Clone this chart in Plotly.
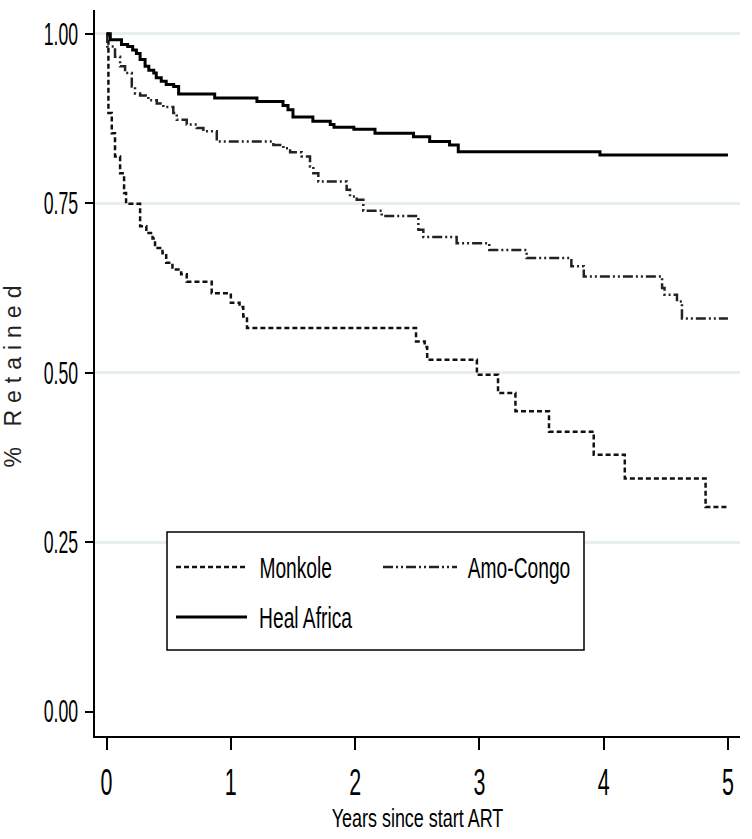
import plotly.graph_objects as go

# ---------------- data ----------------
series_names = ["Monkole", "Amo-Congo", "Heal Africa"]

monkole_t = [0, 0.015, 0.042, 0.068, 0.109, 0.141, 0.157, 0.27, 0.32, 0.37, 0.39, 0.45, 0.48,
             0.53, 0.60, 0.645, 0.846, 1.0, 1.07, 1.10, 1.13, 2.49, 2.56, 2.58, 2.98, 3.15,
             3.29, 3.56, 3.92, 4.17, 4.82, 5.0]
monkole_s = [1.0, 0.883, 0.853, 0.819, 0.794, 0.765, 0.749, 0.716, 0.706, 0.698, 0.684, 0.676,
             0.662, 0.652, 0.645, 0.634, 0.617, 0.603, 0.597, 0.583, 0.566, 0.546, 0.538, 0.519,
             0.497, 0.470, 0.443, 0.413, 0.379, 0.344, 0.302, 0.302]

amo_t = [0, 0.006, 0.068, 0.109, 0.149, 0.203, 0.229, 0.27, 0.336, 0.404, 0.457, 0.537, 0.565,
         0.645, 0.726, 0.779, 0.887, 1.342, 1.423, 1.477, 1.57, 1.637, 1.664, 1.704, 1.932,
         1.959, 2.013, 2.066, 2.214, 2.509, 2.549, 2.817, 3.08, 3.38, 3.74, 3.84, 4.47, 4.49,
         4.59, 4.63, 5.0]
amo_s = [1.0, 0.981, 0.966, 0.952, 0.942, 0.922, 0.912, 0.909, 0.902, 0.897, 0.892, 0.883, 0.873,
         0.866, 0.861, 0.856, 0.841, 0.836, 0.831, 0.825, 0.819, 0.804, 0.794, 0.782, 0.770,
         0.760, 0.755, 0.739, 0.731, 0.711, 0.700, 0.691, 0.681, 0.669, 0.657, 0.642, 0.625,
         0.615, 0.605, 0.580, 0.580]

heal_t = [0, 0.03, 0.12, 0.17, 0.21, 0.24, 0.27, 0.31, 0.34, 0.38, 0.40, 0.44, 0.48, 0.54, 0.58,
          0.87, 1.21, 1.42, 1.46, 1.50, 1.66, 1.80, 1.83, 1.99, 2.16, 2.47, 2.60, 2.76, 2.83,
          3.97, 5.0]
heal_s = [1.0, 0.991, 0.984, 0.981, 0.976, 0.971, 0.962, 0.952, 0.946, 0.942, 0.935, 0.930,
          0.925, 0.922, 0.911, 0.905, 0.900, 0.894, 0.888, 0.877, 0.871, 0.866, 0.862, 0.859,
          0.853, 0.848, 0.841, 0.836, 0.826, 0.821, 0.821]

x_ticks = [0, 1, 2, 3, 4, 5]
y_ticks = [0.0, 0.25, 0.5, 0.75, 1.0]
y_tick_labels = ["0.00", "0.25", "0.50", "0.75", "1.00"]
x_title = "Years since start ART"
y_title = "% Retained"

# ---------------- styling ----------------
W, H = 752, 839
ML, MR, MT, MB = 95, 12, 10, 103
FONT = "Liberation Sans, Arial, sans-serif"

styles = [
    dict(color="#111111", width=2.5, dash="5px,3px"),
    dict(color="#222222", width=2.5, dash="10px,3px,2px,3px,2px,3px"),
    dict(color="#000000", width=3, dash="solid"),
]
series = [(monkole_t, monkole_s), (amo_t, amo_s), (heal_t, heal_s)]

fig = go.Figure()
for name, (t, s), st in zip(series_names, series, styles):
    fig.add_trace(go.Scatter(x=t, y=s, mode="lines", name=name, line_shape="hv",
                             line=st, showlegend=False, hoverinfo="skip"))

fig.update_layout(
    width=W, height=H, autosize=False,
    margin=dict(l=ML, r=MR, t=MT, b=MB, pad=0),
    paper_bgcolor="white", plot_bgcolor="white",
    xaxis=dict(range=[-0.093, 5.097], tickvals=x_ticks, ticktext=[str(v) for v in x_ticks],
               automargin=False,
               showgrid=False, zeroline=False, showline=True, linecolor="black", linewidth=1.5,
               ticks="outside", ticklen=12, tickwidth=1.5, tickcolor="black",
               tickfont=dict(family=FONT, size=37, color="black"), ticklabelstandoff=1,
               title=dict(text=x_title, font=dict(family=FONT, size=26, color="black"),
                          standoff=0)),
    yaxis=dict(range=[-0.036, 1.035], tickvals=y_ticks, ticktext=y_tick_labels,
               automargin=False,
               showgrid=True, gridcolor="#e6eef0", gridwidth=2.5,
               zeroline=True, zerolinecolor="white", zerolinewidth=4,
               showline=True, linecolor="black", linewidth=1.5,
               ticks="outside", ticklen=8, tickwidth=1.5, tickcolor="black",
               tickfont=dict(family=FONT, size=31, color="black"), ticklabelstandoff=1,
               title=dict(text=y_title, font=dict(family=FONT, size=23, color="#222222"),
                          standoff=3)),
)

# ---------------- legend box (drawn manually to match layout) ----------------
pw, ph = W - ML - MR, H - MT - MB
def px(xp):
    return (xp - ML) / pw
def py(yp):
    return (H - MB - yp) / ph

fig.add_shape(type="rect", xref="paper", yref="paper",
              x0=px(167), x1=px(584), y0=py(650), y1=py(532),
              line=dict(color="black", width=1.5), fillcolor="white", layer="above")

# (line start, line end, text centre, row y) in pixels
legend_slots = [(176, 247, 295, 567), (383, 457, 519, 567), (176, 247, 305.5, 617)]
for name, st, (lx0, lx1, tx, ly) in zip(series_names, styles, legend_slots):
    fig.add_shape(type="line", xref="paper", yref="paper",
                  x0=px(lx0), x1=px(lx1), y0=py(ly), y1=py(ly), line=st, layer="above")
    fig.add_annotation(xref="paper", yref="paper", x=px(tx), y=py(ly), text=name,
                       showarrow=False, xanchor="center", yanchor="middle",
                       font=dict(family=FONT, size=30, color="black"))

post = """
document.body.style.margin = '0';
document.body.style.padding = '0';
document.documentElement.style.overflow = 'hidden';
function squeeze(sel, f){
  document.querySelectorAll(sel).forEach(function(t){
    var w = t.getComputedTextLength();
    if (w > 0) {
      t.setAttribute('textLength', (w * f).toFixed(2));
      t.setAttribute('lengthAdjust', 'spacingAndGlyphs');
    }
  });
}
squeeze('.xtick text', 0.58);
squeeze('.ytick text', 0.57);
squeeze('.g-xtitle text', 0.69);
squeeze('.annotation-text', 0.64);
document.querySelectorAll('.g-ytitle text').forEach(function(t){
  t.setAttribute('letter-spacing', '7px');
});
"""
fig.write_html("out.html", post_script=post, config={"displayModeBar": False})
